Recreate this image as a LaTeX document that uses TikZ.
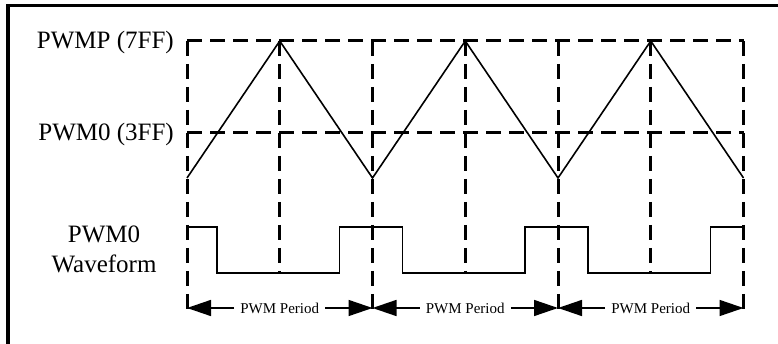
\documentclass[tikz,border=0pt]{standalone}
\usepackage{fontspec}
\setmainfont{Liberation Serif}
\usetikzlibrary{arrows.meta}
\begin{document}
\begin{tikzpicture}[x=1pt,y=-1pt,
  gridline/.style={line width=3pt, dash pattern=on 15pt off 8pt},
  wave/.style={line width=1.6pt, line join=miter},
  frameline/.style={line width=3.5pt},
  dimline/.style={line width=1.5pt, -{Triangle[length=24pt,width=16pt]}},
  lbl/.style={font=\fontsize{25}{29}\selectfont, inner sep=0pt},
  plbl/.style={font=\fontsize{15}{18}\selectfont, inner sep=6pt}]
\useasboundingbox (0,0) rectangle (778,344);
\draw[frameline] (8,344) -- (8,5.5) -- (778,5.5);
% grid
\draw[gridline] (187,41) -- (743.5,41);
\draw[gridline] (187,133) -- (743.5,133);
\foreach \i in {0,1,2,3} {
  \draw[gridline] (187+185.5*\i,41) -- (187+185.5*\i,310);
  \coordinate (b\i) at (187+185.5*\i,308);
}
\foreach \i in {0,1,2} {
  \draw[gridline] (279.75+185.5*\i,41) -- (279.75+185.5*\i,273);
}
% triangle
\draw[wave] (187,178) -- (279.75,41) -- (372.5,178) -- (465.25,41) -- (558,178) -- (650.75,41) -- (743.5,178);
% PWM waveform
\draw[wave] (187,227) -- (217,227) -- (217,273) -- (339.5,273) -- (339.5,227)
  -- (402.5,227) -- (402.5,273) -- (525,273) -- (525,227)
  -- (588,227) -- (588,273) -- (710.5,273) -- (710.5,227) -- (743.5,227);
% labels
\node[lbl, anchor=base east] (lp) at (174,48.5) {PWMP (7FF)};
\node[lbl, anchor=base east] (l0) at (174,140.5) {PWM0 (3FF)};
\node[lbl, anchor=base] (lw1) at (104,243) {PWM0};
\node[lbl, anchor=base] (lw2) at (104,272.5) {Waveform};
% period arrows
\foreach \i [evaluate=\i as \j using int(\i+1)] in {0,1,2} {
  \node[plbl] (p\i) at (279.75+185.5*\i,308) {PWM Period};
  \draw[dimline] (p\i.west) -- (b\i);
  \draw[dimline] (p\i.east) -- (b\j);
}
\end{tikzpicture}
\end{document}
